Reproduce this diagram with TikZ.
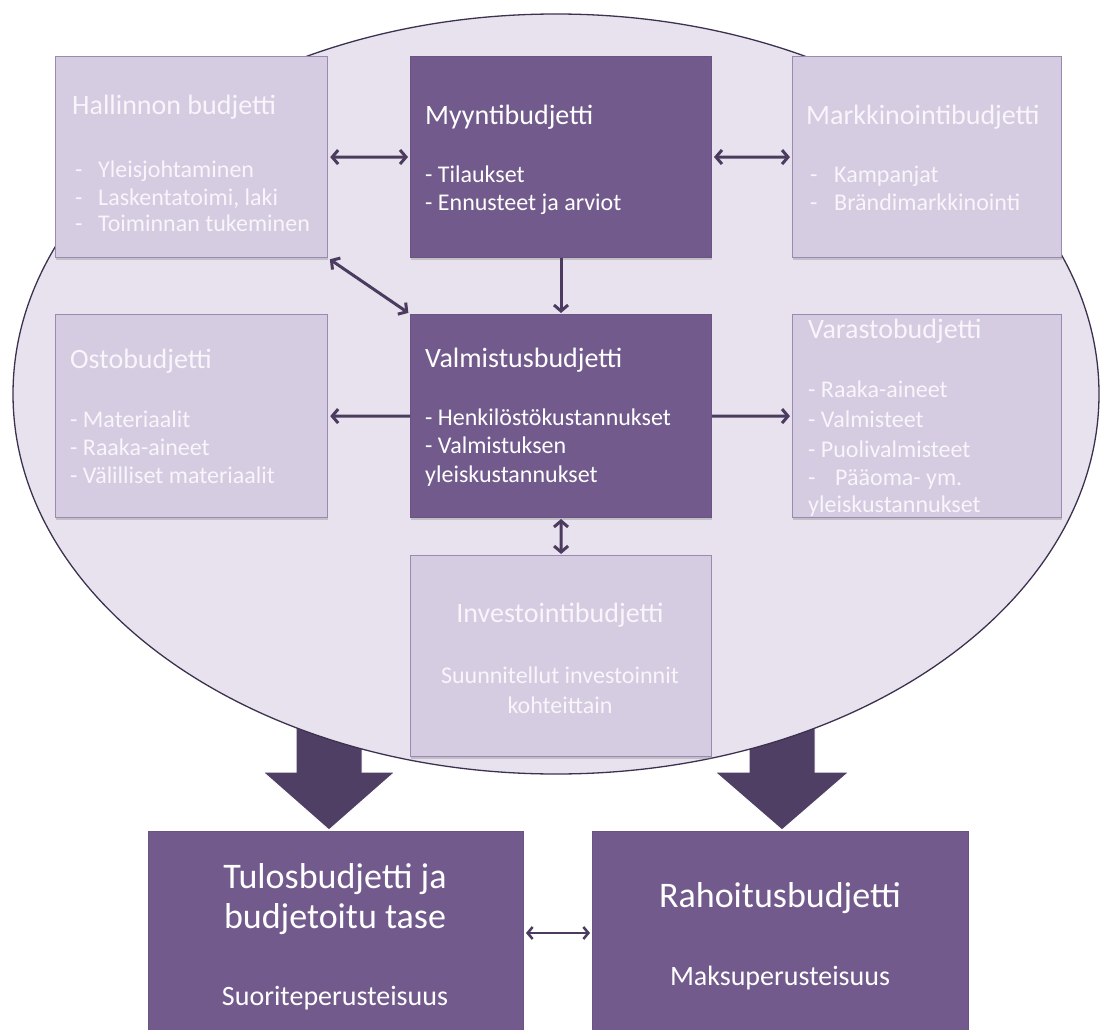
\documentclass[tikz,border=0pt]{standalone}
\usepackage{fontspec}
\setmainfont{Carlito}
\usetikzlibrary{arrows.meta,shadows}

\definecolor{ovalfill}{HTML}{E8E2EE}
\definecolor{ovaledge}{HTML}{3D3150}
\definecolor{lightfill}{HTML}{D5CCE1}
\definecolor{lightedge}{HTML}{9A8AB2}
\definecolor{darkfill}{HTML}{725B8C}
\definecolor{darkedge}{HTML}{6A5484}
\definecolor{paletext}{HTML}{F8F5FB}
\definecolor{linkcol}{HTML}{4B3C5F}
\definecolor{bigarrow}{HTML}{4F3F65}

\tikzset{
  lightbox/.style={draw=lightedge, fill=lightfill, line width=1.2pt, anchor=north west,
    inner sep=0pt, drop shadow={shadow xshift=0pt, shadow yshift=-2pt, opacity=.35}},
  darkbox/.style={draw=darkedge, fill=darkfill, line width=1pt, anchor=north west,
    inner sep=0pt, drop shadow={shadow xshift=0pt, shadow yshift=-2pt, opacity=.35}},
  lt/.style={text=paletext, inner sep=0pt, anchor=base west},
  dt/.style={text=white, inner sep=0pt, anchor=base west},
  head/.style={font=\fontsize{28}{32}\selectfont},
  item/.style={font=\fontsize{24}{28}\selectfont},
  bighead/.style={font=\fontsize{36}{40}\selectfont},
  subline/.style={font=\fontsize{28}{32}\selectfont},
  link/.style={draw=linkcol, line width=3pt,
    {Straight Barb[length=6pt,width=14pt]}-{Straight Barb[length=6pt,width=14pt]}},
  onelink/.style={draw=linkcol, line width=3pt, -{Straight Barb[length=6pt,width=14pt]}},
  fat/.style={fill=bigarrow, draw=white, line width=1pt, line join=miter}
}

\begin{document}
\begin{tikzpicture}[x=1pt, y=-1pt]
\useasboundingbox (0,0) rectangle (1104,1030);

% heavy arrows leading out of the oval (partly hidden behind it)
\draw[fat] (296,650) -- (362,650) -- (362,772) -- (395,772) -- (329,830)
  -- (263,772) -- (296,772) -- cycle;
\draw[fat] (749,650) -- (815,650) -- (815,772) -- (849,772) -- (782,830)
  -- (715,772) -- (749,772) -- cycle;

% the oval
\draw[fill=ovalfill, draw=ovaledge, line width=1.3pt] (556,394) ellipse [x radius=543, y radius=380];

% upper row
\node[lightbox, minimum width=272pt, minimum height=201pt] (hal) at (55,56) {};
\node[darkbox,  minimum width=301pt, minimum height=201pt] (myy) at (410,56) {};
\node[lightbox, minimum width=269pt, minimum height=201pt] (mar) at (792,56) {};
% middle row
\node[lightbox, minimum width=272pt, minimum height=203pt] (ost) at (55,314) {};
\node[darkbox,  minimum width=301pt, minimum height=203pt] (val) at (410,314) {};
\node[lightbox, minimum width=269pt, minimum height=203pt] (var) at (792,314) {};
% investment box
\node[lightbox, minimum width=301pt, minimum height=201pt] (inv) at (410,555) {};
% result boxes
\node[darkbox, minimum width=375pt, minimum height=210pt] (tul) at (148,831) {};
\node[darkbox, minimum width=376pt, minimum height=210pt] (rah) at (592,831) {};

% texts: administration
\node[lt, head] (halT) at (72,115) {Hallinnon budjetti};
\node[lt, item] (halD1) at (75,178) {-};
\node[lt, item] (halI1) at (98,178) {Yleisjohtaminen};
\node[lt, item] (halD2) at (75,205) {-};
\node[lt, item] (halI2) at (98,205) {Laskentatoimi, laki};
\node[lt, item] (halD3) at (75,232) {-};
\node[lt, item] (halI3) at (98,232) {Toiminnan tukeminen};

% sales
\node[dt, head] (myyT) at (425,125) {Myyntibudjetti};
\node[dt, item] (myyI1) at (425,183) {- Tilaukset};
\node[dt, item] (myyI2) at (425,211) {- Ennusteet ja arviot};

% marketing
\node[lt, head] (marT) at (806,125) {Markkinointibudjetti};
\node[lt, item] (marD1) at (810,183) {-};
\node[lt, item] (marI1) at (834,183) {Kampanjat};
\node[lt, item] (marD2) at (810,211) {-};
\node[lt, item] (marI2) at (834,211) {Brändimarkkinointi};

% purchasing
\node[lt, head] (ostT) at (70,368) {Ostobudjetti};
\node[lt, item] (ostI1) at (70,427) {- Materiaalit};
\node[lt, item] (ostI2) at (70,455) {- Raaka-aineet};
\node[lt, item] (ostI3) at (70,483) {- Välilliset materiaalit};

% production
\node[dt, head] (valT) at (425,367) {Valmistusbudjetti};
\node[dt, item] (valI1) at (425,425) {- Henkilöstökustannukset};
\node[dt, item] (valI2) at (425,453) {- Valmistuksen};
\node[dt, item] (valI3) at (425,482) {yleiskustannukset};

% inventory
\node[lt, head] (varT) at (808,338) {Varastobudjetti};
\node[lt, item] (varI1) at (808,397) {- Raaka-aineet};
\node[lt, item] (varI2) at (808,427) {- Valmisteet};
\node[lt, item] (varI3) at (808,457) {- Puolivalmisteet};
\node[lt, item] (varD4) at (808,485) {-};
\node[lt, item] (varI4) at (835,485) {Pääoma- ym.};
\node[lt, item] (varI5) at (808,512) {yleiskustannukset};

% investments
\node[lt, head, anchor=base] (invT) at (560,622) {Investointibudjetti};
\node[lt, item, anchor=base] (invI1) at (560,683) {Suunnitellut investoinnit};
\node[lt, item, anchor=base] (invI2) at (560,713) {kohteittain};

% result and financing
\node[dt, bighead, anchor=base] (tulT1) at (335,888) {Tulosbudjetti ja};
\node[dt, bighead, anchor=base] (tulT2) at (335,928) {budjetoitu tase};
\node[dt, subline, anchor=base] (tulI) at (335,1005) {Suoriteperusteisuus};
\node[dt, bighead, anchor=base] (rahT) at (780,907) {Rahoitusbudjetti};
\node[dt, subline, anchor=base] (rahI) at (780,985) {Maksuperusteisuus};

% connectors
\coordinate (lvl) at (0,933);
\draw[link, shorten <=2pt, shorten >=2pt] (hal.east) -- (myy.west);
\draw[link, shorten <=2pt, shorten >=2pt] (myy.east) -- (mar.west);
\draw[link, shorten <=2pt, shorten >=2pt] (hal.south east) -- (val.north west);
\draw[onelink, shorten >=1pt] (myy.south) -- (val.north);
\draw[onelink, shorten >=2pt] (val.west) -- (ost.east);
\draw[onelink, shorten >=2pt] (val.east) -- (var.west);
\draw[link, shorten <=1pt, shorten >=1pt] (val.south) -- (inv.north);
\draw[draw=linkcol, line width=2.5pt,
  {Straight Barb[length=5pt,width=12pt]}-{Straight Barb[length=5pt,width=12pt]},
  shorten <=2pt, shorten >=2pt] (tul.east |- lvl) -- (rah.west |- lvl);
\end{tikzpicture}
\end{document}
